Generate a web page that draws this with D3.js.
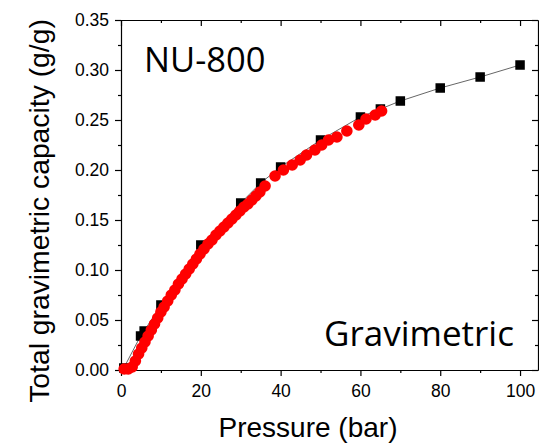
<!DOCTYPE html>
<html>
<head>
<meta charset="utf-8">
<script src="https://cdn.jsdelivr.net/npm/d3@7"></script>
<style>
  html, body { margin: 0; padding: 0; background: #fff; }
  svg { display: block; }
</style>
</head>
<body>
<svg id="chart" width="539" height="443"></svg>
<script>
// ---- data ----
const squareX = [0.7, 4.9, 5.8, 10, 20, 30, 35, 40, 50, 60, 65, 70, 80, 90, 100];
const squareY = [0.002, 0.034, 0.039, 0.065, 0.125, 0.167, 0.187, 0.203, 0.230, 0.253, 0.261, 0.269, 0.282, 0.293, 0.305];

const circleX = [0.8, 1.8, 2.8, 3.6, 4.4, 5.2, 6.0, 6.8, 7.6, 8.4, 9.2, 10.0, 10.8, 11.7, 12.6, 13.5, 14.4, 15.3, 16.2,
  17.1, 18.0, 18.9, 19.8, 20.8, 21.8, 22.8, 23.8, 24.8, 25.8, 26.8, 27.8, 28.8, 29.8, 30.8, 31.8, 32.8, 33.8, 34.8,
  36.1, 38.6, 40.7, 42.9, 44.9, 46.5, 48.6, 50.3, 52.0, 54.1, 56.6, 59.6, 61.4, 63.7, 65.3];
const circleY = [0.001, 0.001, 0.003, 0.009, 0.016, 0.022, 0.028, 0.034, 0.040, 0.046, 0.052, 0.058, 0.063, 0.069, 0.075, 0.080, 0.086, 0.091, 0.096,
  0.101, 0.106, 0.111, 0.116, 0.121, 0.126, 0.130, 0.135, 0.139, 0.143, 0.147, 0.151, 0.155, 0.159, 0.163, 0.166, 0.170, 0.174, 0.178,
  0.184, 0.194, 0.200, 0.205, 0.210, 0.215, 0.220, 0.225, 0.230, 0.233, 0.239, 0.245, 0.251, 0.255, 0.259];

const xMajorTicks = [0, 20, 40, 60, 80, 100];
const xMinorTicks = [10, 30, 50, 70, 90];
const yMajorTicks = [0, 0.05, 0.10, 0.15, 0.20, 0.25, 0.30, 0.35];
const yMinorTicks = [0.025, 0.075, 0.125, 0.175, 0.225, 0.275, 0.325];

const xTitle = "Pressure (bar)";
const yTitle = "Total gravimetric capacity (g/g)";
const label1 = "NU-800";
const label2 = "Gravimetric";

// ---- layout ----
const L = 121, R = 538, T = 20, B = 370;
const x = d3.scaleLinear().domain([0, 104.5]).range([L, R]);
const y = d3.scaleLinear().domain([0, 0.35]).range([B, T]);

const svg = d3.select("#chart");
const tickFont = "'Liberation Sans', Arial, sans-serif";

const axisStyle = g => {
  g.selectAll("path.domain").attr("stroke", "#000").attr("stroke-width", 1.2);
  g.selectAll("line").attr("stroke", "#000").attr("stroke-width", 1.2);
  g.selectAll("text").attr("font-family", tickFont).attr("font-size", 17.5).attr("fill", "#000");
};

// bottom
svg.append("g").attr("transform", `translate(0,${B})`)
  .call(d3.axisBottom(x).tickValues(xMajorTicks).tickFormat(d3.format("d")).tickSizeInner(6).tickSizeOuter(0).tickPadding(9))
  .call(axisStyle);
svg.append("g").attr("transform", `translate(0,${B})`)
  .call(d3.axisBottom(x).tickValues(xMinorTicks).tickFormat("").tickSizeInner(3).tickSizeOuter(0))
  .call(axisStyle).call(g => g.select(".domain").remove());
// top
svg.append("g").attr("transform", `translate(0,${T})`)
  .call(d3.axisBottom(x).tickValues(xMajorTicks).tickFormat("").tickSizeInner(6).tickSizeOuter(0))
  .call(axisStyle);
svg.append("g").attr("transform", `translate(0,${T})`)
  .call(d3.axisBottom(x).tickValues(xMinorTicks).tickFormat("").tickSizeInner(3).tickSizeOuter(0))
  .call(axisStyle).call(g => g.select(".domain").remove());
// left
svg.append("g").attr("transform", `translate(${L},0)`)
  .call(d3.axisLeft(y).tickValues(yMajorTicks).tickFormat(d3.format(".2f")).tickSizeInner(6).tickSizeOuter(0).tickPadding(6))
  .call(axisStyle);
svg.append("g").attr("transform", `translate(${L},0)`)
  .call(d3.axisLeft(y).tickValues(yMinorTicks).tickFormat("").tickSizeInner(3).tickSizeOuter(0))
  .call(axisStyle).call(g => g.select(".domain").remove());
// right
svg.append("g").attr("transform", `translate(${R},0)`)
  .call(d3.axisLeft(y).tickValues(yMajorTicks).tickFormat("").tickSizeInner(6).tickSizeOuter(0))
  .call(axisStyle);
svg.append("g").attr("transform", `translate(${R},0)`)
  .call(d3.axisLeft(y).tickValues(yMinorTicks).tickFormat("").tickSizeInner(3).tickSizeOuter(0))
  .call(axisStyle).call(g => g.select(".domain").remove());

// line through squares
const sq = squareX.map((v, i) => [v, squareY[i]]);
svg.append("path")
  .attr("d", d3.line().x(d => x(d[0])).y(d => y(d[1]))(sq))
  .attr("fill", "none").attr("stroke", "#555").attr("stroke-width", 0.9);

// squares
const s = 9.5;
svg.append("g").selectAll("rect").data(sq).join("rect")
  .attr("x", d => x(d[0]) - s / 2).attr("y", d => y(d[1]) - s / 2)
  .attr("width", s).attr("height", s).attr("fill", "#000");

// red circles
const cc = circleX.map((v, i) => [v, circleY[i]]);
svg.append("g").selectAll("circle").data(cc).join("circle")
  .attr("cx", d => x(d[0])).attr("cy", d => y(d[1])).attr("r", 5.8).attr("fill", "#ff0000");

// titles
svg.append("text").attr("x", 308).attr("y", 437).attr("text-anchor", "middle")
  .attr("font-family", tickFont).attr("font-size", 28).text(xTitle);
svg.append("text").attr("transform", "translate(49,211) rotate(-90)").attr("text-anchor", "middle")
  .attr("font-family", tickFont).attr("font-size", 28.3).text(yTitle);

// annotations
svg.append("text").attr("x", 144).attr("y", 72).attr("font-family", "'Open Sans', sans-serif")
  .attr("font-size", 34.5).attr("fill", "#000").text(label1);
svg.append("text").attr("x", 324).attr("y", 346).attr("font-family", "'Open Sans', sans-serif")
  .attr("font-size", 35).attr("fill", "#000").text(label2);
</script>
</body>
</html>
